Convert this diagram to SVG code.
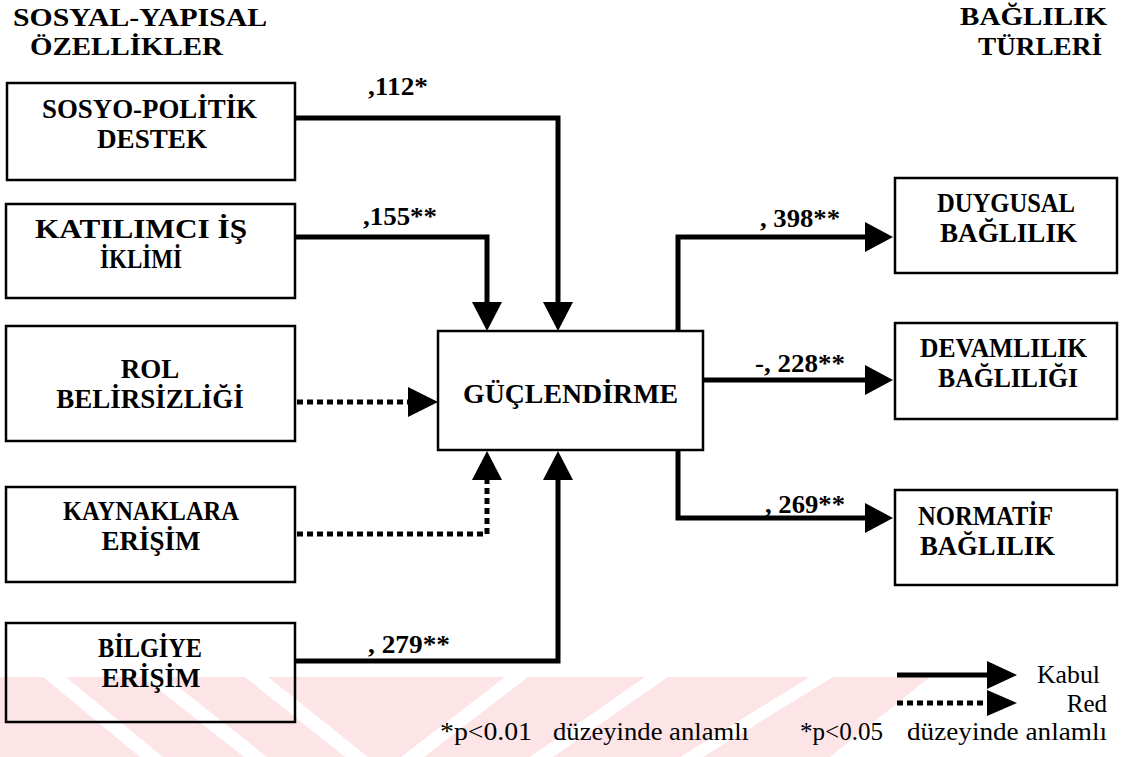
<svg xmlns="http://www.w3.org/2000/svg" width="1123" height="757" viewBox="0 0 1123 757">
<defs>
<style>
.bg{fill:#ffffff}
.wm{fill:#fce4e7}
.wg{fill:#ffffff}
.box{fill:none;stroke:#000;stroke-width:2.5}
.t{font-family:"Liberation Serif","Times New Roman",serif;font-weight:bold;fill:#000}
.n{font-family:"Liberation Serif","Times New Roman",serif;font-weight:normal;fill:#000}
.c{text-anchor:middle}
.ln{fill:none;stroke:#000;stroke-width:5}
.dt{fill:none;stroke:#000;stroke-width:5;stroke-dasharray:6 4}
.ah{fill:#000}
</style>
</defs>
<rect class="bg" x="0" y="0" width="1123" height="757"/>
<g id="watermark">
<polygon class="wm" points="0,677 930,677 830,757 0,757"/>
<polygon class="wg" points="43,677 66,677 163,757 140,757"/>
<polygon class="wg" points="143,677 166,677 267,757 244,757"/>
<polygon class="wg" points="245,677 268,677 368,757 345,757"/>
<polygon class="wg" points="505,677 528,677 424,757 401,757"/>
<polygon class="wg" points="645,677 668,677 553,757 530,757"/>
<polygon class="wg" points="810,677 833,677 703,757 680,757"/>
</g>
<g id="titles">
<text class="t" x="13" y="26" font-size="25" textLength="254" lengthAdjust="spacingAndGlyphs">SOSYAL-YAPISAL</text>
<text class="t" x="30" y="55" font-size="25" textLength="193" lengthAdjust="spacingAndGlyphs">ÖZELLİKLER</text>
<text class="t" x="960" y="25" font-size="25" textLength="147" lengthAdjust="spacingAndGlyphs">BAĞLILIK</text>
<text class="t" x="978" y="55" font-size="25" textLength="124" lengthAdjust="spacingAndGlyphs">TÜRLERİ</text>
</g>
<g id="connectors">
<path class="ln" d="M295,118 H558 V302"/>
<polygon class="ah" points="543,302 573,302 558,331"/>
<path class="ln" d="M295,237 H487 V302"/>
<polygon class="ah" points="472,302 502,302 487,331"/>
<path class="dt" d="M297,402 H408"/>
<polygon class="ah" points="408,387 408,417 438,402"/>
<path class="dt" d="M297,534 H487 V480"/>
<polygon class="ah" points="472,480 502,480 487,451"/>
<path class="ln" d="M295,661 H558 V480"/>
<polygon class="ah" points="543,480 573,480 558,451"/>
<path class="ln" d="M678,331 V237 H865"/>
<polygon class="ah" points="865,222 865,252 893,237"/>
<path class="ln" d="M703,380 H865"/>
<polygon class="ah" points="865,365 865,395 893,380"/>
<path class="ln" d="M678,450 V518 H865"/>
<polygon class="ah" points="865,503 865,533 893,518"/>
<text class="t" x="368" y="95" font-size="26" textLength="60" lengthAdjust="spacingAndGlyphs">,112*</text>
<text class="t" x="363" y="225" font-size="26" textLength="74" lengthAdjust="spacingAndGlyphs">,155**</text>
<text class="t" x="368" y="653" font-size="26" textLength="82" lengthAdjust="spacingAndGlyphs">, 279**</text>
<text class="t" x="760" y="227" font-size="26" textLength="80" lengthAdjust="spacingAndGlyphs">, 398**</text>
<text class="t" x="755" y="372" font-size="26" textLength="90" lengthAdjust="spacingAndGlyphs">-, 228**</text>
<text class="t" x="765" y="513" font-size="26" textLength="80" lengthAdjust="spacingAndGlyphs">, 269**</text>
</g>
<g id="n-sosyo">
<rect class="box" x="7" y="83" width="288" height="97"/>
<text class="t" x="42" y="118" font-size="27" textLength="215" lengthAdjust="spacingAndGlyphs">SOSYO-POLİTİK</text>
<text class="t" x="97" y="148" font-size="27" textLength="110" lengthAdjust="spacingAndGlyphs">DESTEK</text>
</g>
<g id="n-katilimci">
<rect class="box" x="6" y="204" width="289" height="94"/>
<text class="t" x="35" y="238" font-size="27" textLength="212" lengthAdjust="spacingAndGlyphs">KATILIMCI İŞ</text>
<text class="t" x="100" y="268" font-size="27" textLength="82" lengthAdjust="spacingAndGlyphs">İKLİMİ</text>
</g>
<g id="n-rol">
<rect class="box" x="6" y="326" width="289" height="115"/>
<text class="t c" x="150" y="378" font-size="27">ROL</text>
<text class="t c" x="150" y="408" font-size="27">BELİRSİZLİĞİ</text>
</g>
<g id="n-kaynaklara">
<rect class="box" x="6" y="487" width="289" height="95"/>
<text class="t" x="63" y="520" font-size="27" textLength="176" lengthAdjust="spacingAndGlyphs">KAYNAKLARA</text>
<text class="t c" x="151" y="550" font-size="27">ERİŞİM</text>
</g>
<g id="n-bilgiye">
<rect class="box" x="6" y="623" width="289" height="99"/>
<text class="t c" x="150" y="657" font-size="27" textLength="104" lengthAdjust="spacingAndGlyphs">BİLGİYE</text>
<text class="t c" x="151" y="687" font-size="27">ERİŞİM</text>
</g>
<g id="n-guclendirme">
<rect class="box" x="438" y="331" width="265" height="119"/>
<text class="t" x="463" y="403" font-size="27" textLength="215" lengthAdjust="spacingAndGlyphs">GÜÇLENDİRME</text>
</g>
<g id="n-duygusal">
<rect class="box" x="895" y="178" width="222" height="95"/>
<text class="t" x="937" y="212" font-size="27" textLength="138" lengthAdjust="spacingAndGlyphs">DUYGUSAL</text>
<text class="t" x="940" y="242" font-size="27" textLength="137" lengthAdjust="spacingAndGlyphs">BAĞLILIK</text>
</g>
<g id="n-devamlilik">
<rect class="box" x="895" y="323" width="222" height="96"/>
<text class="t" x="920" y="357" font-size="27" textLength="167" lengthAdjust="spacingAndGlyphs">DEVAMLILIK</text>
<text class="t" x="938" y="387" font-size="27" textLength="140" lengthAdjust="spacingAndGlyphs">BAĞLILIĞI</text>
</g>
<g id="n-normatif">
<rect class="box" x="895" y="490" width="222" height="95"/>
<text class="t" x="918" y="525" font-size="27" textLength="135" lengthAdjust="spacingAndGlyphs">NORMATİF</text>
<text class="t" x="920" y="555" font-size="27" textLength="135" lengthAdjust="spacingAndGlyphs">BAĞLILIK</text>
</g>
<g id="legend">
<path class="ln" d="M897,675 H988"/>
<polygon class="ah" points="987,661 987,689 1017,675"/>
<path class="dt" d="M897,703 H988"/>
<polygon class="ah" points="987,690 987,716 1017,703"/>
<text class="n" x="1037" y="683" font-size="25" textLength="63" lengthAdjust="spacingAndGlyphs">Kabul</text>
<text class="n" x="1107" y="712" font-size="25" text-anchor="end">Red</text>
<text class="n" x="440" y="740" font-size="25" textLength="92" lengthAdjust="spacingAndGlyphs">*p&lt;0.01</text>
<text class="n" x="553" y="740" font-size="25" textLength="196" lengthAdjust="spacingAndGlyphs">düzeyinde anlamlı</text>
<text class="n" x="800" y="740" font-size="25" textLength="83" lengthAdjust="spacingAndGlyphs">*p&lt;0.05</text>
<text class="n" x="907" y="740" font-size="25" textLength="200" lengthAdjust="spacingAndGlyphs">düzeyinde anlamlı</text>
</g>
</svg>
